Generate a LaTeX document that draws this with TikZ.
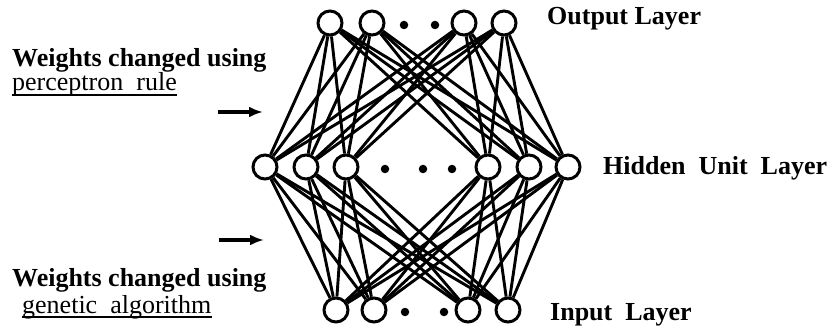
\documentclass[tikz,border=0pt]{standalone}
\usepackage{fontspec}
\setmainfont{Liberation Serif}
\usetikzlibrary{arrows.meta}
\begin{document}
\begin{tikzpicture}[x=1pt,y=-1pt,
  unit/.style={circle,draw,line width=3pt,fill=white,minimum size=24pt,inner sep=0pt},
  dot/.style={circle,fill,minimum size=8.5pt,inner sep=0pt},
  conn/.style={line width=2.9pt},
  lbl/.style={font=\bfseries\fontsize{26}{28}\selectfont,inner sep=0pt,anchor=base west},
  note/.style={font=\fontsize{26}{28}\selectfont,inner sep=0pt,anchor=base west},
  uline/.style={line width=2.2pt},
  pointer/.style={line width=3.4pt,-{Latex[length=14pt,width=11pt]}}]
\useasboundingbox (0,0) rectangle (838,331);
% output layer
\node[unit] (o1) at (330,23) {};
\node[unit] (o2) at (372,23) {};
\node[dot] (od1) at (404,25) {};
\node[dot] (od2) at (435,25) {};
\node[unit] (o3) at (464,23) {};
\node[unit] (o4) at (504,23) {};
% hidden layer
\node[unit] (h1) at (265,167) {};
\node[unit] (h2) at (306,167) {};
\node[unit] (h3) at (346,167) {};
\node[dot] (hd1) at (385,169) {};
\node[dot] (hd2) at (423,169) {};
\node[dot] (hd3) at (452,169) {};
\node[unit] (h4) at (488,167) {};
\node[unit] (h5) at (529,167) {};
\node[unit] (h6) at (568,167) {};
% input layer
\node[unit] (i1) at (336,310) {};
\node[unit] (i2) at (374,310) {};
\node[dot] (id1) at (405,312) {};
\node[dot] (id2) at (444,312) {};
\node[unit] (i3) at (468,310) {};
\node[unit] (i4) at (508,310) {};
% connections
\foreach \h in {h1,h2,h3,h4,h5,h6}{
  \foreach \o in {o1,o2,o3,o4}{\draw[conn] (\h) -- (\o);}
  \foreach \i in {i1,i2,i3,i4}{\draw[conn] (\h) -- (\i);}
}
% labels
\node[lbl] (lo) at (547,25) {Output Layer};
\node[lbl] (lh) at (603,175) {Hidden\ \ Unit\ \ Layer};
\node[lbl] (li) at (550,320) {Input\ \ Layer};
% notes
\node[note,font=\bfseries\fontsize{26}{28}\selectfont] (n1) at (12,67) {Weights changed using};
\node[note] (n2) at (12,91) {perceptron\ \ rule};
\draw[uline] ([yshift=-4pt]n2.base west) -- ([yshift=-4pt]n2.base east);
\node[note,font=\bfseries\fontsize{26}{28}\selectfont] (n3) at (12,287) {Weights changed using};
\node[note] (n4) at (22,313) {genetic\ \ algorithm};
\draw[uline] ([yshift=-4pt]n4.base west) -- ([yshift=-4pt]n4.base east);
% pointers
\coordinate (a1s) at (218,112);
\coordinate (a1e) at (263,112);
\coordinate (a2s) at (219,240);
\coordinate (a2e) at (264,240);
\draw[pointer] (a1s) -- (a1e);
\draw[pointer] (a2s) -- (a2e);
\end{tikzpicture}
\end{document}
